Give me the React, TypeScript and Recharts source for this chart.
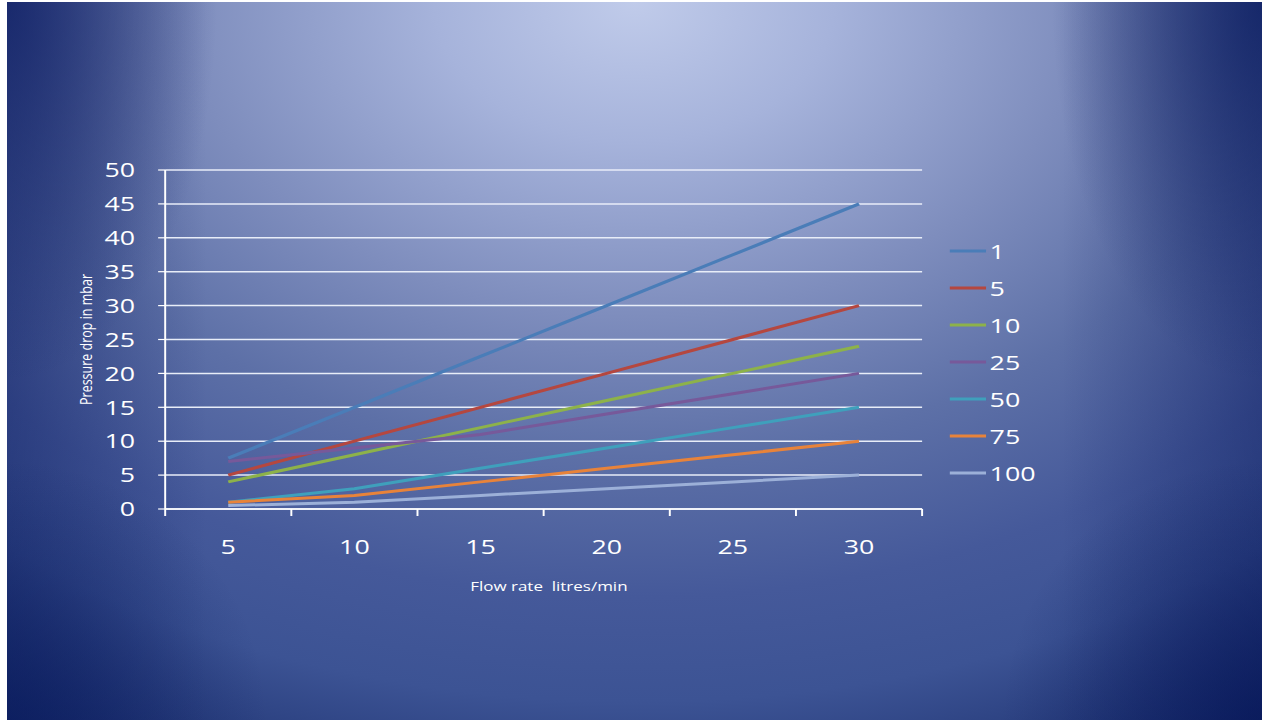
import React from 'react';
import {
    LineChart, Line, XAxis, YAxis, CartesianGrid, Legend
} from 'recharts';

// slide was drawn 4:3 and stretched sideways, so the chart is drawn narrow and scaled
const SCALE = 1255 / 960;
const FONT = '"Open Sans", "Liberation Sans", sans-serif';

const flowRates = [5, 10, 15, 20, 25, 30];
const tickBounds = [2.5, 7.5, 12.5, 17.5, 22.5, 27.5, 32.5];
const yTicks = [0, 5, 10, 15, 20, 25, 30, 35, 40, 45, 50];

const series1 = [7.5, 15, 22.5, 30, 37.5, 45];
const series5 = [5, 10, 15, 20, 25, 30];
const series10 = [4, 8, 12, 16, 20, 24];
const series25 = [7, 9, 11, 14, 17, 20];
const series50 = [1, 3, 6, 9, 12, 15];
const series75 = [1, 2, 4, 6, 8, 10];
const series100 = [0.5, 1, 2, 3, 4, 5];

const seriesList = [
    { key: 's1', name: '1', values: series1, color: '#4a7db8' },
    { key: 's5', name: '5', values: series5, color: '#b5473f' },
    { key: 's10', name: '10', values: series10, color: '#8db24a' },
    { key: 's25', name: '25', values: series25, color: '#77599a' },
    { key: 's50', name: '50', values: series50, color: '#3fa0bc' },
    { key: 's75', name: '75', values: series75, color: '#e8833a' },
    { key: 's100', name: '100', values: series100, color: '#9cb0d8' },
];

const chartData = flowRates.map((x, i) => {
    const row: any = { x };
    seriesList.forEach(s => { row[s.key] = s.values[i]; });
    return row;
});

const X_TICK_MARGIN = 30;

const XTick = (props: any) => {
    const { x, y, payload } = props;
    const v = payload.value;
    const axisY = y - X_TICK_MARGIN;
    if (v % 5 !== 0) {
        return <line x1={x} x2={x} y1={axisY} y2={axisY + 7} stroke="#ffffff" strokeWidth={1.5} />;
    }
    return (
        <text x={x} y={y} dy="0.71em" textAnchor="middle" fill="#ffffff" fontSize={20.5} fontFamily={FONT}>
            {v}
        </text>
    );
};

// legend kept in series order (recharts sorts its payload by name)
const LegendContent = () => (
    <div style={{ display: 'flex', flexDirection: 'column' }}>
        {seriesList.map(s => (
            <div key={s.key} style={{ height: 37, display: 'flex', alignItems: 'center' }}>
                <svg width={28} height={4} style={{ display: 'block' }}>
                    <line x1={0} x2={28} y1={2} y2={2} stroke={s.color} strokeWidth={3} />
                </svg>
                <span style={{ marginLeft: 3, color: '#ffffff', fontSize: 20.5, fontFamily: FONT, lineHeight: '37px' }}>
                    {s.name}
                </span>
            </div>
        ))}
    </div>
);

const background = [
    'radial-gradient(ellipse 210px 380px at 0% 0%, rgba(14,30,100,0.75) 0%, rgba(14,30,100,0) 100%)',
    'radial-gradient(ellipse 210px 380px at 100% 0%, rgba(10,28,96,0.75) 0%, rgba(10,28,96,0) 100%)',
    'radial-gradient(circle at 0% 100%, rgba(8,26,92,0.6) 0px, rgba(8,26,92,0) 260px)',
    'radial-gradient(circle at 100% 100%, rgba(4,20,86,0.6) 0px, rgba(4,20,86,0) 260px)',
    'linear-gradient(to right, rgba(12,28,95,0.45) 0px, rgba(12,28,95,0) 200px)',
    'linear-gradient(to left, rgba(12,28,95,0.45) 0px, rgba(12,28,95,0) 200px)',
    'radial-gradient(ellipse 1000px 700px at 50% 0%, #c0cbea 0%, #a6b3db 20%, #7e8dbd 45%, #5d70a7 65%, #45599a 85%, #3c5394 100%, #1c306f 120%, #0a1a5a 140%)',
].join(', ');

export default function App() {
    return (
        <div style={{ position: 'absolute', left: 7, top: 2, width: 1255, height: 718, overflow: 'hidden', background }}>
            <div style={{ width: 960, height: 718, transform: `scaleX(${SCALE})`, transformOrigin: '0 0' }}>
                <LineChart
                    width={960}
                    height={718}
                    data={chartData}
                    margin={{ top: 168, right: 260, bottom: 111, left: 0 }}
                    style={{ fontFamily: FONT }}
                >
                    <CartesianGrid horizontal vertical={false} stroke="#e8edf8" strokeWidth={1.5} />
                    <XAxis
                        dataKey="x"
                        type="number"
                        domain={[2.5, 32.5]}
                        ticks={[...tickBounds, ...flowRates].sort((a, b) => a - b)}
                        interval={0}
                        tick={<XTick />}
                        tickLine={false}
                        tickSize={0}
                        tickMargin={X_TICK_MARGIN}
                        axisLine={{ stroke: '#ffffff', strokeWidth: 1.5 }}
                        height={100}
                        label={{
                            value: 'Flow rate\u00a0 litres/min',
                            position: 'insideBottom',
                            offset: 18,
                            dx: 4,
                            fill: '#ffffff',
                            fontSize: 13,
                            fontFamily: FONT
                        }}
                    />
                    <YAxis
                        domain={[0, 50]}
                        ticks={yTicks}
                        interval={0}
                        width={121}
                        tick={{ fill: '#ffffff', fontSize: 20.5, fontFamily: FONT }}
                        tickLine={{ stroke: '#ffffff', strokeWidth: 1.2 }}
                        tickSize={5.4}
                        tickMargin={17.6}
                        axisLine={{ stroke: '#ffffff', strokeWidth: 1.5 }}
                        label={{
                            value: 'Pressure drop in mbar',
                            angle: -90,
                            position: 'center',
                            fill: '#ffffff',
                            fontSize: 12.5,
                            fontFamily: FONT
                        }}
                    />
                    <YAxis
                        yAxisId="r"
                        orientation="right"
                        domain={[0, 50]}
                        width={0}
                        tick={false}
                        tickLine={false}
                        axisLine={{ stroke: '#b7c4ea', strokeWidth: 1.5 }}
                    />
                    <Legend
                        layout="vertical"
                        align="center"
                        verticalAlign="middle"
                        content={<LegendContent />}
                        wrapperStyle={{ left: 720.6, top: 230.5, width: 130, height: 260 }}
                    />
                    {seriesList.map(s => (
                        <Line
                            key={s.key}
                            type="linear"
                            dataKey={s.key}
                            name={s.name}
                            stroke={s.color}
                            strokeWidth={3}
                            dot={false}
                            activeDot={false}
                            isAnimationActive={false}
                        />
                    ))}
                </LineChart>
            </div>
        </div>
    );
}
